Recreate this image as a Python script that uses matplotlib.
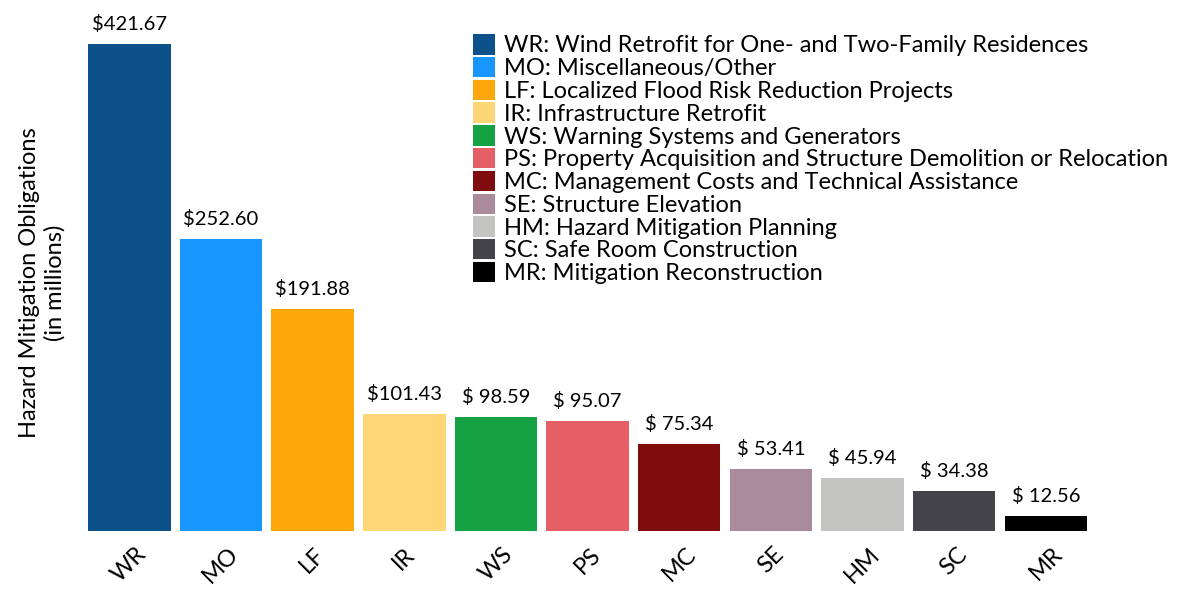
import numpy as np
import matplotlib
matplotlib.use("Agg")
import matplotlib.pyplot as plt
from matplotlib.patches import Patch

plt.rcParams["font.family"] = ["Lato", "DejaVu Sans"]

codes  = ["WR", "MO", "LF", "IR", "WS", "PS", "MC", "SE", "HM", "SC", "MR"]
names  = ["Wind Retrofit for One- and Two-Family Residences",
          "Miscellaneous/Other",
          "Localized Flood Risk Reduction Projects",
          "Infrastructure Retrofit",
          "Warning Systems and Generators",
          "Property Acquisition and Structure Demolition or Relocation",
          "Management Costs and Technical Assistance",
          "Structure Elevation",
          "Hazard Mitigation Planning",
          "Safe Room Construction",
          "Mitigation Reconstruction"]
values = [421.67, 252.60, 191.88, 101.43, 98.59, 95.07, 75.34, 53.41, 45.94, 34.38, 12.56]
colors = ["#0c518a", "#1996ff", "#fea70c", "#ffd675", "#16a143", "#e75f66",
          "#810c0e", "#aa8a9d", "#c4c4c2", "#444448", "#000000"]

fig = plt.figure(figsize=(11.94, 5.89), dpi=100)
ax = fig.add_axes([0.0699, 0.0985, 0.8444, 0.8268])

x = np.arange(len(codes))
bars = ax.bar(x, values, width=0.9, color=colors)

for xi, v in zip(x, values):
    ax.annotate(f"${v:6.2f}", (xi, v), xytext=(0, 8), textcoords="offset points",
                ha="center", va="bottom", fontsize=14.5)

ax.set_xlim(-0.5, len(codes) - 0.5)
ax.set_ylim(0, 421.67)
ax.set_xticks(x)
ax.set_xticklabels(codes, rotation=45, fontsize=17)
ax.tick_params(axis="x", length=0, pad=9)
ax.set_yticks([])
for s in ax.spines.values():
    s.set_visible(False)

ax.set_ylabel("Hazard Mitigation Obligations\n(in millions)", fontsize=17)
ax.yaxis.set_label_coords(-0.018, 0.51)

handles = [Patch(facecolor=c) for c in colors]
labels = [f"{c}: {n}" for c, n in zip(codes, names)]
fig.legend(handles, labels, loc="upper left", bbox_to_anchor=(0.396, 0.942),
           frameon=False, fontsize=17, handlelength=0.95, handleheight=0.95,
           handletextpad=0.35, labelspacing=0.02, borderaxespad=0, borderpad=0)

fig.savefig("out.png", dpi=100)
